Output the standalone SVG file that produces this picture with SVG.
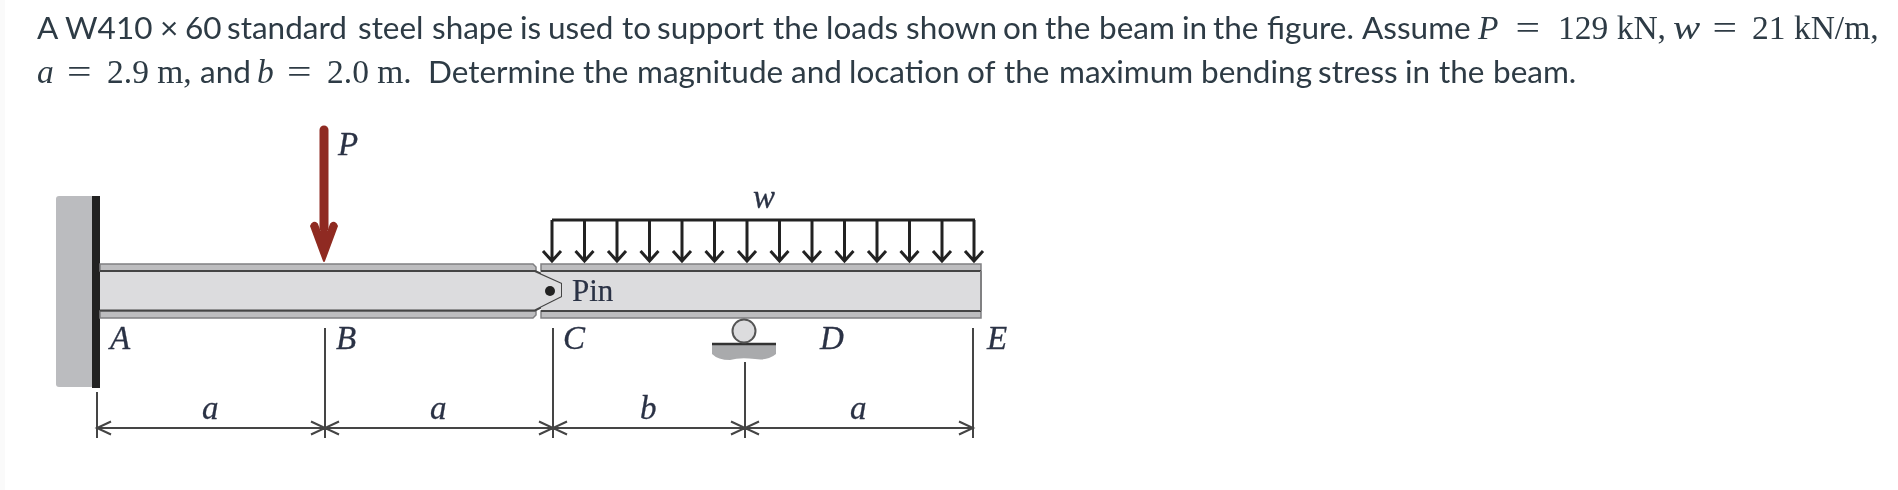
<svg xmlns="http://www.w3.org/2000/svg" width="1898" height="490" viewBox="0 0 1898 490">
<style>
.t{font-family:Lato,"Open Sans",sans-serif;font-size:31.5px;fill:#2d3b45}
.m{font-family:"Liberation Serif",serif;font-size:33.5px;fill:#2d3b45}
.i{font-style:italic}
.l{font-family:"Liberation Serif",serif;font-style:italic;font-size:33px;fill:#2b3245;stroke:#2b3245;stroke-width:.3}
.p{font-family:"Liberation Serif",serif;font-size:31px;fill:#2b3245;stroke:#2b3245;stroke-width:.2}
.w{fill:none;stroke:#222;stroke-width:3}
.d{fill:none;stroke:#444;stroke-width:2}
</style>
<defs>
<filter id="b" x="-5%" y="-5%" width="110%" height="110%"><feGaussianBlur stdDeviation="0.6"/></filter>
<filter id="s" x="-2%" y="-5%" width="104%" height="110%"><feGaussianBlur stdDeviation="0.35"/></filter>
<path id="a" class="w" d="M0 0V41M-9 31L0 41L9 31"/>
</defs>
<rect width="1898" height="490" fill="#fff"/>
<rect width="5" height="490" fill="#fafafa"/>
<g id="statement" filter="url(#s)">
<text class="t" y="39"><tspan x="37">A</tspan> <tspan x="65">W410</tspan> <tspan x="160">×</tspan> <tspan x="185">60</tspan> <tspan x="227">standard</tspan> <tspan x="358">steel</tspan> <tspan x="432">shape</tspan> <tspan x="520">is</tspan> <tspan x="548">used</tspan> <tspan x="622">to</tspan> <tspan x="657">support</tspan> <tspan x="773">the</tspan> <tspan x="826">loads</tspan> <tspan x="906">shown</tspan> <tspan x="1003">on</tspan> <tspan x="1045">the</tspan> <tspan x="1099">beam</tspan> <tspan x="1182">in</tspan> <tspan x="1213">the</tspan> <tspan x="1267">figure.</tspan> <tspan x="1362">Assume</tspan></text>
<text class="m i" x="1478" y="39">P</text>
<text class="m" transform="translate(1515.5 39) scale(1.3 1)">=</text>
<text class="m" x="1558" y="39">129 kN,</text>
<text class="m i" transform="translate(1673 39) scale(1.22 1)">w</text>
<text class="m" transform="translate(1712.5 39) scale(1.3 1)">=</text>
<text class="m" x="1752" y="39">21 kN/m,</text>
<text class="m i" x="37" y="83">a</text>
<text class="m" transform="translate(67 83) scale(1.3 1)">=</text>
<text class="m" x="107" y="83">2.9 m,</text>
<text class="t" x="200" y="83">and</text>
<text class="m i" x="257" y="83">b</text>
<text class="m" transform="translate(287 83) scale(1.3 1)">=</text>
<text class="m" x="327" y="83">2.0 m.</text>
<text class="t" y="83"><tspan x="428">Determine</tspan> <tspan x="583">the</tspan> <tspan x="637">magnitude</tspan> <tspan x="791">and</tspan> <tspan x="849">location</tspan> <tspan x="967">of</tspan> <tspan x="1004">the</tspan> <tspan x="1059">maximum</tspan> <tspan x="1201">bending</tspan> <tspan x="1318">stress</tspan> <tspan x="1405">in</tspan> <tspan x="1439">the</tspan> <tspan x="1493">beam.</tspan></text>
</g>
<g filter="url(#b)">
<g id="wall"><rect x="56" y="196" width="38" height="191" rx="3" fill="#bbbcbf"/><rect x="92" y="196" width="8" height="192" fill="#222"/></g>
<g id="beam-ab">
<path d="M100 271H535L562 283V297L535 310H100Z" fill="#dcdcde"/>
<path d="M100 264H533L536 267V271H100ZM100 311H536V315L533 318H100Z" fill="#bdbdbf" stroke="#808082" stroke-width="1.5"/>
<path d="M100 271H535L562 283V297L535 310.5H100" fill="none" stroke="#444" stroke-width="2"/>
</g>
<g id="beam-ce">
<path d="M541 271H981V311H541V307.5L562 297V283L541 273.5Z" fill="#dcdcde"/>
<path d="M541 264H981V271H541ZM541 311H981V318H541Z" fill="#bdbdbf" stroke="#808082" stroke-width="1.5"/>
<path d="M541 271H981M541 311H981" fill="none" stroke="#444" stroke-width="2"/>
<path d="M981 271V311" stroke="#808082" stroke-width="2"/>
</g>
<g id="pin"><circle cx="550" cy="291" r="5" fill="#222"/><text class="p" x="572" y="301">Pin</text></g>
<g id="roller"><path d="M712 345H776V354Q768 361 755 359Q740 357 730 360Q718 360 712 354Z" fill="#a9aaac"/><path d="M712 344H776" stroke="#333" stroke-width="2.5"/><circle cx="744" cy="331" r="11.5" fill="#dcdcde" stroke="#555" stroke-width="2"/></g>
<g id="load-p"><path d="M324 130V228" stroke="#8f2b20" stroke-width="9" stroke-linecap="round"/><path d="M311 226Q313 221 317 224L320 232H328L331 224Q335 221 337 226L324 261Z" fill="#8f2b20" stroke="#8f2b20" stroke-width="2" stroke-linejoin="round"/><text class="l" x="338" y="155">P</text></g>
<g id="load-w">
<path class="w" d="M552 220H975"/>
<use href="#a" x="552" y="220"/><use href="#a" x="584.5" y="220"/><use href="#a" x="617" y="220"/><use href="#a" x="649.5" y="220"/><use href="#a" x="682" y="220"/><use href="#a" x="714.5" y="220"/><use href="#a" x="747" y="220"/><use href="#a" x="779.5" y="220"/><use href="#a" x="812" y="220"/><use href="#a" x="844.5" y="220"/><use href="#a" x="877" y="220"/><use href="#a" x="909.5" y="220"/><use href="#a" x="942" y="220"/><use href="#a" x="974" y="220"/>
<text class="l" x="753" y="208">w</text>
</g>
<g id="labels">
<text class="l" x="110" y="349">A</text><text class="l" x="336" y="349">B</text><text class="l" x="563" y="349">C</text><text class="l" x="820" y="349">D</text><text class="l" x="987" y="349">E</text>
<text class="l" x="202" y="419">a</text><text class="l" x="430" y="419">a</text><text class="l" x="640" y="419">b</text><text class="l" x="850" y="419">a</text>
</g>
<g id="connectors">
<path class="d" d="M97 392V438M325 328V438M553 328V438M745 362V438M973 328V438"/>
<path class="d" d="M97 428H973"/>
<path class="d" d="M111 421.5L97 428L111 434.5M311 421.5L325 428L311 434.5M339 421.5L325 428L339 434.5M539 421.5L553 428L539 434.5M567 421.5L553 428L567 434.5M731 421.5L745 428L731 434.5M759 421.5L745 428L759 434.5M959 421.5L973 428L959 434.5"/>
</g>
</g>
</svg>
